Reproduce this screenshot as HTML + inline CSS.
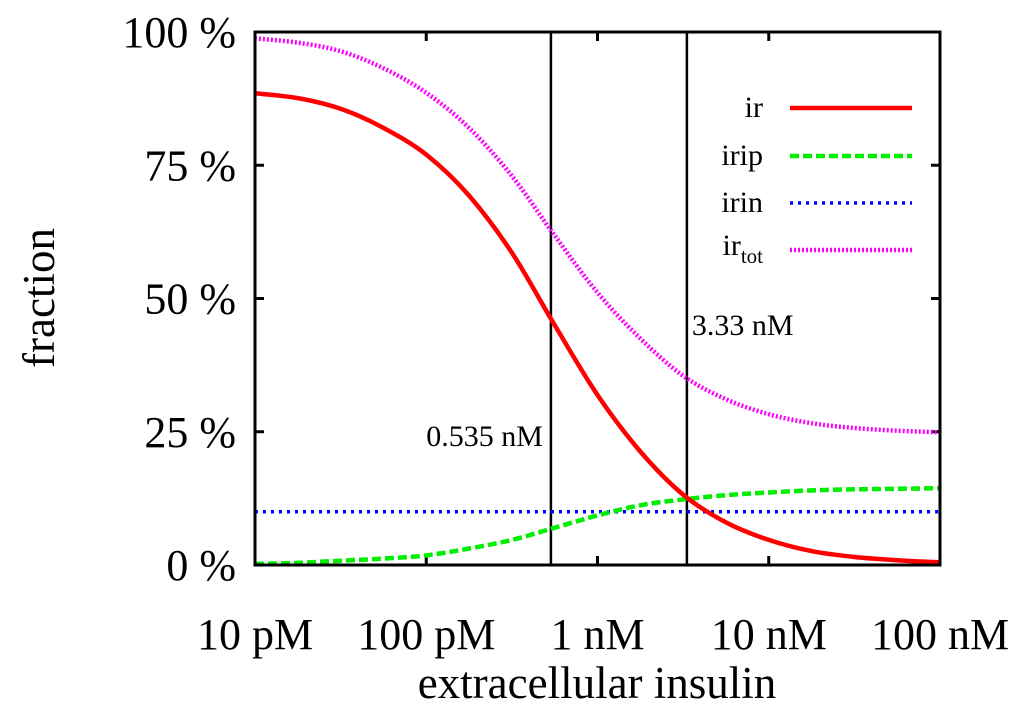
<!DOCTYPE html>
<html><head><meta charset="utf-8"><style>
html,body{margin:0;padding:0;background:#fff;}
svg{display:block;font-family:"Liberation Serif",serif;}
</style></head><body>
<svg id="chart" width="1024" height="714" viewBox="0 0 1024 714">
<g id="plot"></g>
</svg>
<script>
const xDecades = [0,0.25,0.5,0.75,1,1.25,1.5,1.75,2,2.25,2.5,2.75,3,3.25,3.5,3.75,4];
const irValues = [88.5,87.6,85.6,82.0,77.0,69.3,58.6,45.0,31.9,21.3,13.2,8,4.7,2.6,1.5,0.9,0.5];
const iripValues = [0.2,0.4,0.8,1.2,1.8,3.1,4.7,7.0,9.3,11.2,12.3,13.1,13.6,14.0,14.2,14.3,14.4];
const irinValues = [10,10,10,10,10,10,10,10,10,10,10,10,10,10,10,10,10];
const totValues = [98.8,98.0,96.4,93.2,88.6,82.0,73.0,61.8,51.1,42.5,35.5,31.1,28.3,26.6,25.7,25.2,24.9];
const xTickLabels = ["10 pM","100 pM","1 nM","10 nM","100 nM"];
const yTickValues = [0,25,50,75,100];
const yTickLabels = ["0 %","25 %","50 %","75 %","100 %"];
const markerDecades = [1.728,2.522];
const markerLabels = ["0.535 nM","3.33 nM"];

const L=255,R=940,T=32,B=565;
const xs=d=>L+(R-L)*d/4;
const ys=v=>B-(B-T)*v/100;
const NS="http://www.w3.org/2000/svg";
const g=document.getElementById('plot');
function mk(tag,attrs,parent){const e=document.createElementNS(NS,tag);for(const k in attrs)e.setAttribute(k,attrs[k]);(parent||g).appendChild(e);return e;}

xTickLabels.forEach((lab,i)=>{
  const x=xs(i);
  const t1=mk('line',{x1:x,x2:x,y1:B,y2:B-9,stroke:'#000','stroke-width':3});
  
  
  const t2=mk('line',{x1:x,x2:x,y1:T,y2:T+9,stroke:'#000','stroke-width':3});
  
  
  const tx=mk('text',{x:x,y:649,'text-anchor':'middle','font-size':44});
  tx.textContent=lab;
  
  
});
yTickValues.forEach((v,i)=>{
  const y=ys(v);
  const t1=mk('line',{x1:L,x2:L+9,y1:y,y2:y,stroke:'#000','stroke-width':3});
  
  
  const t2=mk('line',{x1:R,x2:R-9,y1:y,y2:y,stroke:'#000','stroke-width':3});
  
  
  const tx=mk('text',{x:236,y:y+15,'text-anchor':'end','font-size':44});
  tx.textContent=yTickLabels[i];
  
  
});

markerDecades.forEach((d,i)=>{
  const x=xs(d);
  const ln=mk('line',{x1:x,x2:x,y1:T,y2:B,stroke:'#000','stroke-width':2.5});
  
  
});
const ml1=mk('text',{x:xs(markerDecades[0])-8,y:446,'text-anchor':'end','font-size':30});
ml1.textContent=markerLabels[0];


const ml2=mk('text',{x:xs(markerDecades[1])+5,y:335,'text-anchor':'start','font-size':30});
ml2.textContent=markerLabels[1];



function smooth(vals){
  const p=vals.map((v,i)=>[xs(xDecades[i]),ys(v)]);
  let d='M'+p[0][0]+','+p[0][1];
  for(let i=0;i<p.length-1;i++){
    const p0=p[i-1]||p[i],p1=p[i],p2=p[i+1],p3=p[i+2]||p2;
    const c1=[p1[0]+(p2[0]-p0[0])/6,p1[1]+(p2[1]-p0[1])/6];
    const c2=[p2[0]-(p3[0]-p1[0])/6,p2[1]-(p3[1]-p1[1])/6];
    d+=` C${c1[0].toFixed(1)},${c1[1].toFixed(1)} ${c2[0].toFixed(1)},${c2[1].toFixed(1)} ${p2[0].toFixed(1)},${p2[1].toFixed(1)}`;
  }
  return d;
}
const series=[
  {vals:irinValues,color:'#0000ff',w:3.5,dash:'3 5',name:'series-irin'},
  {vals:iripValues,color:'#00ee00',w:4.5,dash:'9 4',name:'series-irip'},
  {vals:totValues,color:'#ff00ff',w:4.5,dash:'2 2',name:'series-irtot'},
  {vals:irValues,color:'#ff0000',w:4.5,dash:'',name:'series-ir'}
];
series.forEach(s=>{
  const p=mk('path',{d:smooth(s.vals),fill:'none',stroke:s.color,'stroke-width':s.w,'stroke-dasharray':s.dash});
  
  
});

const fr=mk('rect',{x:L,y:T,width:R-L,height:B-T,fill:'none',stroke:'#000','stroke-width':3});



const leg=[
  {t:'ir',c:'#ff0000',w:4.5,d:'',y:108},
  {t:'irip',c:'#00ee00',w:4.5,d:'9 4',y:156},
  {t:'irin',c:'#0000ff',w:3.5,d:'3 5',y:203},
  {t:'tot',c:'#ff00ff',w:4.5,d:'2 2',y:250}
];
const lg=mk('g',{});


leg.forEach(e=>{
  const ln=mk('line',{x1:790,x2:912,y1:e.y,y2:e.y,stroke:e.c,'stroke-width':e.w,'stroke-dasharray':e.d},lg);
  
  
  const tx=mk('text',{x:763,y:e.y+9,'text-anchor':'end','font-size':30},lg);
  if(e.t==='tot'){tx.innerHTML='ir<tspan font-size="21" dy="8">tot</tspan>';tx.setAttribute('y',e.y+5);}
  else tx.textContent=e.t;
  
  
});

const yt=mk('text',{x:0,y:0,'text-anchor':'middle','font-size':45,transform:'translate(54,298) rotate(-90)'});
yt.textContent='fraction';


const xt=mk('text',{x:597,y:698,'text-anchor':'middle','font-size':45});
xt.textContent='extracellular insulin';


</script>
</body></html>
